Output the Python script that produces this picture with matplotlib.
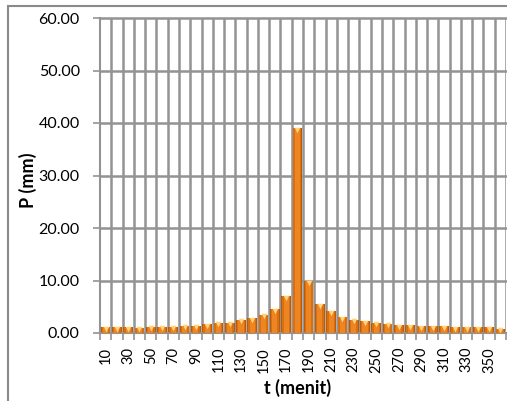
import numpy as np
import matplotlib.pyplot as plt

# rainfall per 10-minute block (alternating block hyetograph)
t_menit = np.arange(10, 370, 10)
p_mm = [1.1, 1.1, 1.1, 1.0, 1.2, 1.2, 1.2, 1.4, 1.4, 1.7,
        2.0, 2.0, 2.5, 2.8, 3.5, 4.5, 7.0, 39.0, 9.9, 5.5,
        4.1, 3.0, 2.5, 2.2, 2.0, 1.8, 1.5, 1.5, 1.3, 1.3,
        1.3, 1.1, 1.1, 1.1, 1.1, 0.8]
tick_labels = [str(v) for v in t_menit[::2]]

plt.rcParams['font.family'] = ['Lato', 'DejaVu Sans']

fig = plt.figure(figsize=(5.07, 4.01), dpi=100)
ax = fig.add_axes([100 / 507, 1 - 333 / 401, 406 / 507, 315 / 401])

x = np.arange(len(t_menit))
grid_c = '#939393'

# grid: horizontal every 10 mm, vertical between categories
for y in range(10, 70, 10):
    ax.axhline(y, color=grid_c, lw=1.8, zorder=0, clip_on=False)
for b in np.arange(0.5, len(t_menit), 1.0):
    ax.axvline(b, color=grid_c, lw=1.8, zorder=0)

# bars with a rough gradient + bevel look
ax.bar(x, p_mm, width=0.86, color='#B95A0C', lw=0, zorder=2)
ax.bar(x, p_mm, width=0.72, color='#D8700F', lw=0, zorder=3)
ax.bar(x, p_mm, width=0.45, color='#EE8520', lw=0, zorder=4)
ax.scatter(x, np.array(p_mm) - 0.3, marker='v', s=16, color='#FFD37A', lw=0, zorder=5)

ax.set_xlim(-0.5, len(t_menit) - 0.5)
ax.set_ylim(0, 60)
ax.set_yticks(range(0, 70, 10))
ax.set_yticklabels([f'{v:.2f}' for v in range(0, 70, 10)], fontsize=11.5)
ax.set_xticks(x[::2])
ax.set_xticklabels(tick_labels, rotation=90, fontsize=10.5)
ax.set_xticks(np.arange(-0.5, len(t_menit), 1.0), minor=True)
ax.tick_params(axis='x', which='major', length=0, pad=10)
ax.tick_params(axis='x', which='minor', length=5, color=grid_c, width=1.2)
ax.tick_params(axis='y', length=5, color=grid_c, width=1.2, pad=9.5)

for s in ['top', 'right']:
    ax.spines[s].set_visible(False)
for s in ['left', 'bottom']:
    ax.spines[s].set_color(grid_c)
    ax.spines[s].set_linewidth(1.5)

fig.text(28 / 507, 1 - 180 / 401, 'P (mm)', rotation=90, fontsize=13,
         fontweight='bold', ha='center', va='center')
fig.text(298 / 507, 1 - 388 / 401, 't (menit)', fontsize=13,
         fontweight='bold', ha='center', va='center')

# outer chart border
fig.add_artist(plt.Rectangle((8 / 507, -0.1), 1.2, 1 - 6 / 401 + 0.1,
                             transform=fig.transFigure, fill=False,
                             edgecolor='#8a8a8a', lw=1.5))

fig.savefig('out.png', dpi=100)
